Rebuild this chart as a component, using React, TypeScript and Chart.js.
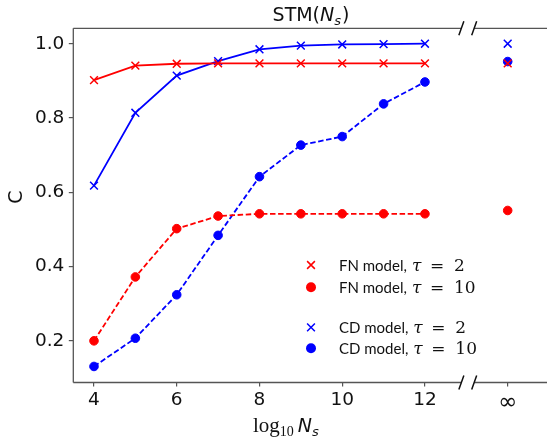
import { useEffect, useRef } from 'react';
import { Chart, registerables } from 'chart.js';

Chart.register(...registerables);

// ---- data ----
const logNs = [4, 5, 6, 7, 8, 9, 10, 11, 12];
const fnTau2 = [0.902, 0.941, 0.946, 0.947, 0.947, 0.947, 0.947, 0.947, 0.947];
const fnTau10 = [0.2, 0.372, 0.502, 0.536, 0.542, 0.542, 0.542, 0.542, 0.542];
const cdTau2 = [0.618, 0.814, 0.914, 0.953, 0.985, 0.995, 0.998, 0.999, 1.0];
const cdTau10 = [0.131, 0.207, 0.324, 0.484, 0.642, 0.727, 0.75, 0.838, 0.897];
const infFnTau2 = 0.947;
const infFnTau10 = 0.551;
const infCdTau2 = 1.0;
const infCdTau10 = 0.952;
const INF_X = 14;
const xTickValues = [4, 6, 8, 10, 12, INF_X];
const yTickValues = [0.2, 0.4, 0.6, 0.8, 1.0];
const legendItems = [
  { model: 'FN model,', tau: '2', color: 'red', marker: 'x' },
  { model: 'FN model,', tau: '10', color: 'red', marker: 'o' },
  { model: 'CD model,', tau: '2', color: 'blue', marker: 'x' },
  { model: 'CD model,', tau: '10', color: 'blue', marker: 'o' },
];

const RED = '#ff0000';
const BLUE = '#0000ff';
const SPINE = '#555555';
const BREAK_LEFT = 12.88;
const BREAK_RIGHT = 13.19;

function colorOf(c: string) {
  return c === 'red' ? RED : BLUE;
}

function drawSegments(ctx: CanvasRenderingContext2D, segs: { t: string; f: string; dy?: number; gap?: number }[], x: number, y: number, align: 'left' | 'center') {
  let total = 0;
  const widths = segs.map((s) => {
    ctx.font = s.f;
    const w = ctx.measureText(s.t).width + (s.gap || 0);
    total += w;
    return w;
  });
  let cx = align === 'center' ? x - total / 2 : x;
  ctx.textAlign = 'left';
  ctx.textBaseline = 'alphabetic';
  segs.forEach((s, i) => {
    ctx.font = s.f;
    ctx.fillText(s.t, cx, y + (s.dy || 0));
    cx += widths[i];
  });
}

function drawMarker(ctx: CanvasRenderingContext2D, kind: string, x: number, y: number, color: string) {
  ctx.save();
  ctx.strokeStyle = color;
  ctx.fillStyle = color;
  if (kind === 'x') {
    const d = 5.5 * Math.SQRT1_2;
    ctx.lineWidth = 1.5;
    ctx.beginPath();
    ctx.moveTo(x - d, y - d);
    ctx.lineTo(x + d, y + d);
    ctx.moveTo(x + d, y - d);
    ctx.lineTo(x - d, y + d);
    ctx.stroke();
  } else {
    ctx.beginPath();
    ctx.arc(x, y, 5, 0, Math.PI * 2);
    ctx.fill();
  }
  ctx.restore();
}

const decorPlugin = {
  id: 'decor',
  afterDraw(chart: any) {
    const { ctx, chartArea: a, scales } = chart;
    const xs = scales.x;
    const bl = xs.getPixelForValue(BREAK_LEFT);
    const br = xs.getPixelForValue(BREAK_RIGHT);
    ctx.save();
    // spines
    ctx.strokeStyle = SPINE;
    ctx.lineWidth = 1.3;
    ctx.beginPath();
    ctx.moveTo(a.left, a.top);
    ctx.lineTo(a.left, a.bottom);
    for (const y of [a.top, a.bottom]) {
      ctx.moveTo(a.left, y);
      ctx.lineTo(bl, y);
      ctx.moveTo(br, y);
      ctx.lineTo(a.right + 2, y);
    }
    ctx.stroke();
    // break marks
    ctx.strokeStyle = '#111';
    ctx.lineWidth = 1.5;
    ctx.beginPath();
    for (const y of [a.top, a.bottom]) {
      for (const bx of [bl, br]) {
        ctx.moveTo(bx - 2.5, y + 7);
        ctx.lineTo(bx + 2.5, y - 7);
      }
    }
    ctx.stroke();

    ctx.fillStyle = '#111';
    // title
    drawSegments(ctx, [
      { t: 'STM(', f: '19px "DejaVu Sans"' },
      { t: 'N', f: 'italic 19px "DejaVu Sans"' },
      { t: 's', f: 'italic 13px "DejaVu Sans"', dy: 4, gap: 1 },
      { t: ')', f: '19px "DejaVu Sans"' },
    ], 311, 20.5, 'center');

    // x label
    drawSegments(ctx, [
      { t: 'log', f: '21px "Liberation Serif"' },
      { t: '10', f: '14px "Liberation Serif"', dy: 4, gap: 4 },
      { t: 'N', f: 'italic 19px "DejaVu Sans"' },
      { t: 's', f: 'italic 13px "DejaVu Sans"', dy: 4 },
    ], 253, 432, 'left');

    // y label
    ctx.save();
    ctx.translate(17, 197);
    ctx.rotate(-Math.PI / 2);
    ctx.font = '19px "DejaVu Sans"';
    ctx.textAlign = 'center';
    ctx.textBaseline = 'middle';
    ctx.fillText('C', 0, 0);
    ctx.restore();

    // legend
    const rowsY = [265, 287.3, 327.3, 348.3];
    legendItems.forEach((it, i) => {
      const y = rowsY[i];
      drawMarker(ctx, it.marker, 311, y, colorOf(it.color));
      const x0 = 339;
      const base = y + 5.8;
      ctx.fillStyle = '#111';
      ctx.textAlign = 'left';
      ctx.textBaseline = 'alphabetic';
      ctx.font = '15px Lato, "Open Sans", sans-serif';
      ctx.fillText(it.model, x0, base);
      const w = ctx.measureText(it.model).width;
      const tx = x0 + Math.max(w + 5, 69);
      ctx.font = 'italic 17px "DejaVu Serif"';
      ctx.fillText('τ', tx, base);
      ctx.font = '17px "DejaVu Serif"';
      ctx.fillText('=', tx + 18, base);
      ctx.fillText(it.tau, tx + 42, base);
    });
    ctx.restore();
  },
};

function pts(vals: number[]) {
  return logNs.map((x, i) => ({ x, y: vals[i] }));
}

export default function App() {
  const ref = useRef<HTMLCanvasElement>(null);
  useEffect(() => {
    if (!ref.current) return;
    const xMark = { pointStyle: 'crossRot', pointRadius: 5.5, pointBorderWidth: 1.5 };
    const dot = { pointStyle: 'circle', pointRadius: 4.3, pointBorderWidth: 1 };
    const chart = new Chart(ref.current, {
      type: 'line',
      data: {
        datasets: [
          { data: [{ x: INF_X, y: infFnTau2 }], borderColor: RED, backgroundColor: RED, showLine: false, ...xMark, order: 1 } as any,
          { data: [{ x: INF_X, y: infCdTau2 }], borderColor: BLUE, backgroundColor: BLUE, showLine: false, ...xMark, order: 2 } as any,
          { data: [{ x: INF_X, y: infCdTau10 }], borderColor: BLUE, backgroundColor: BLUE, showLine: false, ...dot, order: 3 } as any,
          { data: [{ x: INF_X, y: infFnTau10 }], borderColor: RED, backgroundColor: RED, showLine: false, ...dot, order: 4 } as any,
          { data: pts(fnTau2), borderColor: RED, backgroundColor: RED, borderWidth: 1.8, ...xMark, order: 5 } as any,
          { data: pts(cdTau2), borderColor: BLUE, backgroundColor: BLUE, borderWidth: 1.8, ...xMark, order: 6 } as any,
          { data: pts(fnTau10), borderColor: RED, backgroundColor: RED, borderWidth: 1.8, borderDash: [5.5, 2.6], ...dot, order: 7 } as any,
          { data: pts(cdTau10), borderColor: BLUE, backgroundColor: BLUE, borderWidth: 1.8, borderDash: [5.5, 2.6], ...dot, order: 8 } as any,
        ],
      },
      options: {
        responsive: false,
        maintainAspectRatio: false,
        animation: false,
        layout: { autoPadding: false, padding: { top: 28.3, right: 0, bottom: 0, left: 0 } },
        plugins: { legend: { display: false }, tooltip: { enabled: false }, title: { display: false } },
        elements: { line: { tension: 0, fill: false } },
        scales: {
          x: {
            type: 'linear',
            min: 3.5,
            max: 14.95,
            grid: { display: true, drawOnChartArea: false, drawTicks: true, tickLength: 4, color: SPINE, lineWidth: 1.2 },
            border: { display: false },
            afterBuildTicks: (s: any) => { s.ticks = xTickValues.map((v) => ({ value: v })); },
            afterFit: (s: any) => { s.height = 443 - 382.5; s.paddingLeft = 0; s.paddingRight = 0; },
            ticks: {
              color: '#111',
              padding: 3,
              maxRotation: 0,
              autoSkip: false,
              font: (c: any) => (c.tick && c.tick.value === INF_X ? { family: 'DejaVu Sans', size: 23 } : { family: 'DejaVu Sans', size: 18.5 }),
              callback: (v: any) => (v === INF_X ? '∞' : String(v)),
            },
          },
          y: {
            type: 'linear',
            min: 0.0878,
            max: 1.0415,
            grid: { display: true, drawOnChartArea: false, drawTicks: true, tickLength: 4.5, color: SPINE, lineWidth: 1.2 },
            border: { display: false },
            afterBuildTicks: (s: any) => { s.ticks = yTickValues.map((v) => ({ value: v })); },
            afterFit: (s: any) => { s.width = 73.3; },
            ticks: {
              color: '#111',
              padding: 4.5,
              font: { family: 'DejaVu Sans', size: 18.5 },
              callback: (v: any) => Number(v).toFixed(1),
            },
          },
        },
      } as any,
      plugins: [decorPlugin],
    });
    return () => chart.destroy();
  }, []);
  return (
    <div style={{ position: 'absolute', left: 0, top: 0, width: 547, height: 443, background: '#fff', overflow: 'hidden' }}>
      <canvas ref={ref} width={547} height={443} style={{ display: 'block' }} />
    </div>
  );
}
